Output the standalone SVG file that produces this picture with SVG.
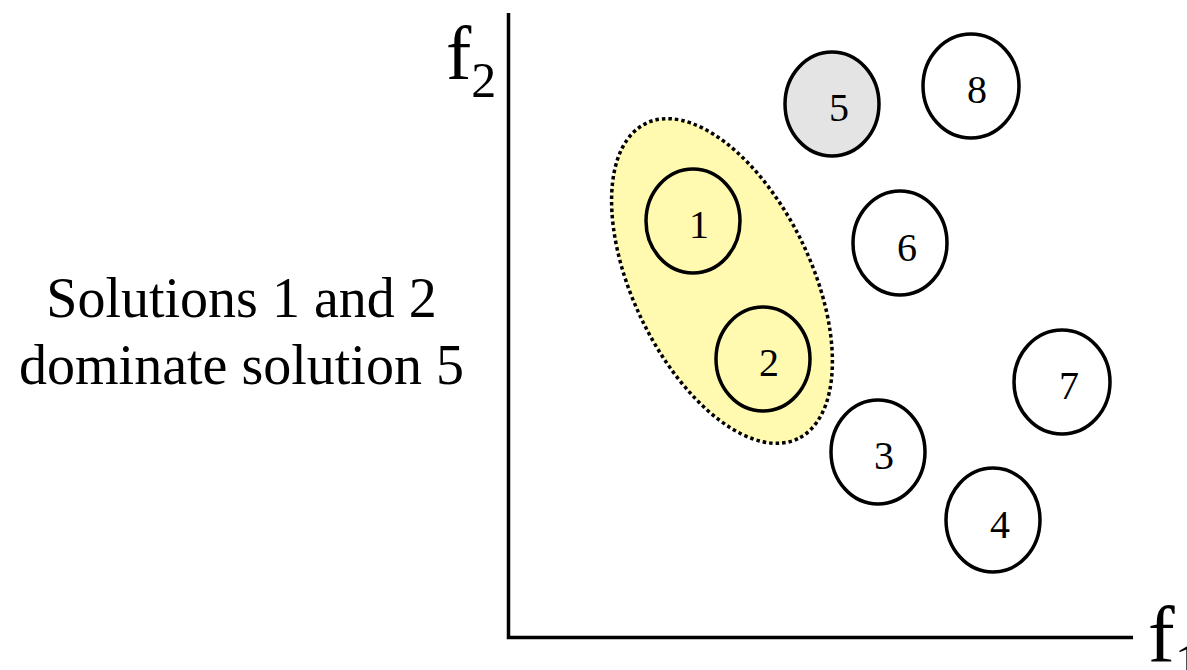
<svg xmlns="http://www.w3.org/2000/svg" width="1187" height="670" viewBox="0 0 1187 670">
<style>
  .node { fill: #ffffff; stroke: #000000; stroke-width: 3.5; }
  .lbl { font-size: 40px; fill: #000; text-anchor: middle; }
  .axis { stroke: #000; stroke-width: 3.5; fill: none; }
  .big { fill: #000; }
</style>
<rect width="1187" height="670" fill="#ffffff"/>
<g font-family="'Liberation Serif', 'Times New Roman', 'DejaVu Serif', serif">
<g id="axes">
  <path class="axis" d="M508.5,13 V637.5 H1133"/>
  <text class="big" x="446" y="79" font-size="76">f<tspan font-size="50" dy="18">2</tspan></text>
  <text class="big" x="1148" y="662" font-size="80">f<tspan font-size="52" dy="18">1</tspan></text>
</g>
<g id="caption">
  <text class="big" x="241.5" y="317" font-size="56" text-anchor="middle">Solutions 1 and 2</text>
  <text class="big" x="241.5" y="384" font-size="56" text-anchor="middle">dominate solution 5</text>
</g>
<g id="group-12">
  <ellipse cx="722" cy="281" rx="175" ry="89" transform="rotate(64.3 722 281)" fill="#fffab0" stroke="#000" stroke-width="3.5" stroke-dasharray="3.5 3"/>
</g>
<g id="node-1">
  <ellipse class="node" cx="693" cy="221" rx="47" ry="52" style="fill:#fffab0"/>
  <text class="lbl" x="699" y="238">1</text>
</g>
<g id="node-2">
  <ellipse class="node" cx="763" cy="359" rx="47" ry="52" style="fill:#fffab0"/>
  <text class="lbl" x="769" y="376">2</text>
</g>
<g id="node-3">
  <ellipse class="node" cx="878" cy="452" rx="47" ry="52"/>
  <text class="lbl" x="884" y="469">3</text>
</g>
<g id="node-4">
  <ellipse class="node" cx="993" cy="520" rx="47" ry="52"/>
  <text class="lbl" x="1000" y="538">4</text>
</g>
<g id="node-5">
  <ellipse class="node" cx="832" cy="104" rx="47" ry="52" style="fill:#e4e4e4"/>
  <text class="lbl" x="839" y="121">5</text>
</g>
<g id="node-6">
  <ellipse class="node" cx="900" cy="243" rx="47" ry="52"/>
  <text class="lbl" x="907" y="261">6</text>
</g>
<g id="node-7">
  <ellipse class="node" cx="1062" cy="382" rx="48" ry="52"/>
  <text class="lbl" x="1069" y="399">7</text>
</g>
<g id="node-8">
  <ellipse class="node" cx="971" cy="86" rx="48" ry="52"/>
  <text class="lbl" x="977" y="103">8</text>
</g>
</g>
<g id="connectors"></g>
</svg>
